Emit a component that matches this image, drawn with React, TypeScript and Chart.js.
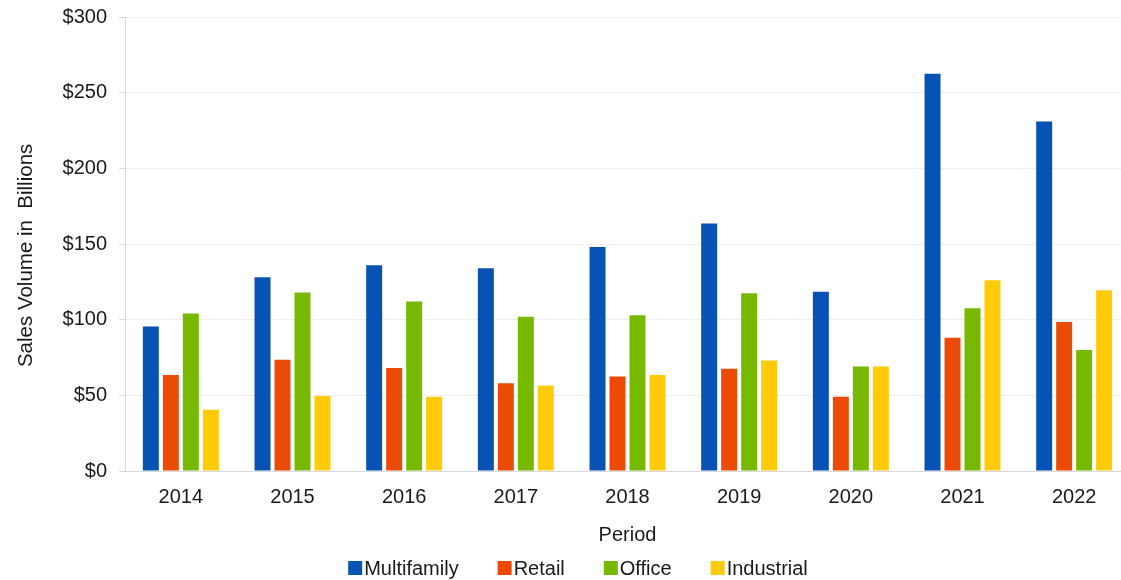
import React, { useEffect, useRef } from 'react';
import { Chart, registerables } from 'chart.js';

Chart.register(...registerables);

const years = ['2014', '2015', '2016', '2017', '2018', '2019', '2020', '2021', '2022'];
const multifamily = [95.5, 128, 136, 134, 148, 163.5, 118.5, 262.5, 231];
const retail = [63.5, 73.5, 68, 58, 62.5, 67.5, 49, 88, 98.5];
const office = [104, 118, 112, 102, 103, 117.5, 69, 107.5, 80];
const industrial = [40.5, 49.5, 49, 56.5, 63.5, 73, 69, 126, 119.5];
const yTicks = [0, 50, 100, 150, 200, 250, 300];

const FONT = "'Liberation Sans', Arial, sans-serif";
const TEXT = '#1a1a1a';

const legendPlugin = {
  id: 'customLegend',
  afterDraw(chart: any) {
    const ctx = chart.ctx;
    ctx.save();
    ctx.font = `20px ${FONT}`;
    ctx.textBaseline = 'middle';
    ctx.textAlign = 'left';
    const box = 14;
    const gapText = 2;
    const gapItem = 39;
    const items = chart.data.datasets.map((ds: any) => ({
      label: ds.label,
      color: ds.backgroundColor,
      w: ctx.measureText(ds.label).width,
    }));
    const total =
      items.reduce((s: number, it: any) => s + box + gapText + it.w, 0) + gapItem * (items.length - 1);
    let x = 578 - total / 2;
    const cy = 568;
    for (const it of items) {
      ctx.fillStyle = it.color;
      ctx.fillRect(x, cy - 7, box, box);
      x += box + gapText;
      ctx.fillStyle = TEXT;
      ctx.fillText(it.label, x, cy + 1);
      x += it.w + gapItem;
    }
    ctx.restore();
  },
};

export default function App() {
  const ref = useRef<HTMLCanvasElement | null>(null);

  useEffect(() => {
    if (!ref.current) return;
    const font = { family: FONT, size: 20 };
    const chart = new Chart(ref.current, {
      type: 'bar',
      data: {
        labels: years,
        datasets: [
          { label: 'Multifamily', data: multifamily, backgroundColor: '#0653B5' },
          { label: 'Retail', data: retail, backgroundColor: '#EB4B06' },
          { label: 'Office', data: office, backgroundColor: '#76B900' },
          { label: 'Industrial', data: industrial, backgroundColor: '#FFCA08' },
        ],
      },
      options: {
        animation: false,
        responsive: false,
        devicePixelRatio: 1,
        layout: { padding: { top: 17, right: 0, bottom: 33, left: 0 } },
        datasets: {
          bar: { barPercentage: 0.8, categoryPercentage: 0.716 },
        },
        plugins: {
          legend: { display: false },
          tooltip: { enabled: false },
        },
        scales: {
          x: {
            grid: { display: false, drawTicks: false },
            border: { display: true, color: '#d9d9d9' },
            ticks: { padding: 14, color: TEXT, font },
            afterFit: (scale: any) => {
              scale.height = 76;
            },
            title: {
              display: true,
              text: 'Period',
              color: TEXT,
              font,
              padding: { top: 16, bottom: 0 },
            },
          },
          y: {
            min: 0,
            max: 300,
            afterBuildTicks: (scale: any) => {
              scale.ticks = yTicks.map((v) => ({ value: v }));
            },
            afterFit: (scale: any) => {
              scale.width = 125;
              scale.paddingTop = 0;
              scale.paddingBottom = 0;
            },
            ticks: {
              padding: 12,
              color: TEXT,
              font,
              callback: (v: any) => '$' + v,
            },
            grid: { color: '#efefef', tickColor: '#d9d9d9', tickLength: 6 },
            border: { color: '#d9d9d9' },
            title: {
              display: true,
              text: 'Sales Volume in  Billions    ',
              color: TEXT,
              font: { family: FONT, size: 20.5 },
              padding: { top: 14, bottom: 0 },
            },
          },
        },
      },
      plugins: [legendPlugin],
    });
    return () => chart.destroy();
  }, []);

  return (
    <div style={{ position: 'absolute', left: 0, top: 0, width: 1121, height: 580, overflow: 'hidden', background: '#fff' }}>
      <canvas ref={ref} width={1130} height={580} style={{ display: 'block' }} />
    </div>
  );
}
